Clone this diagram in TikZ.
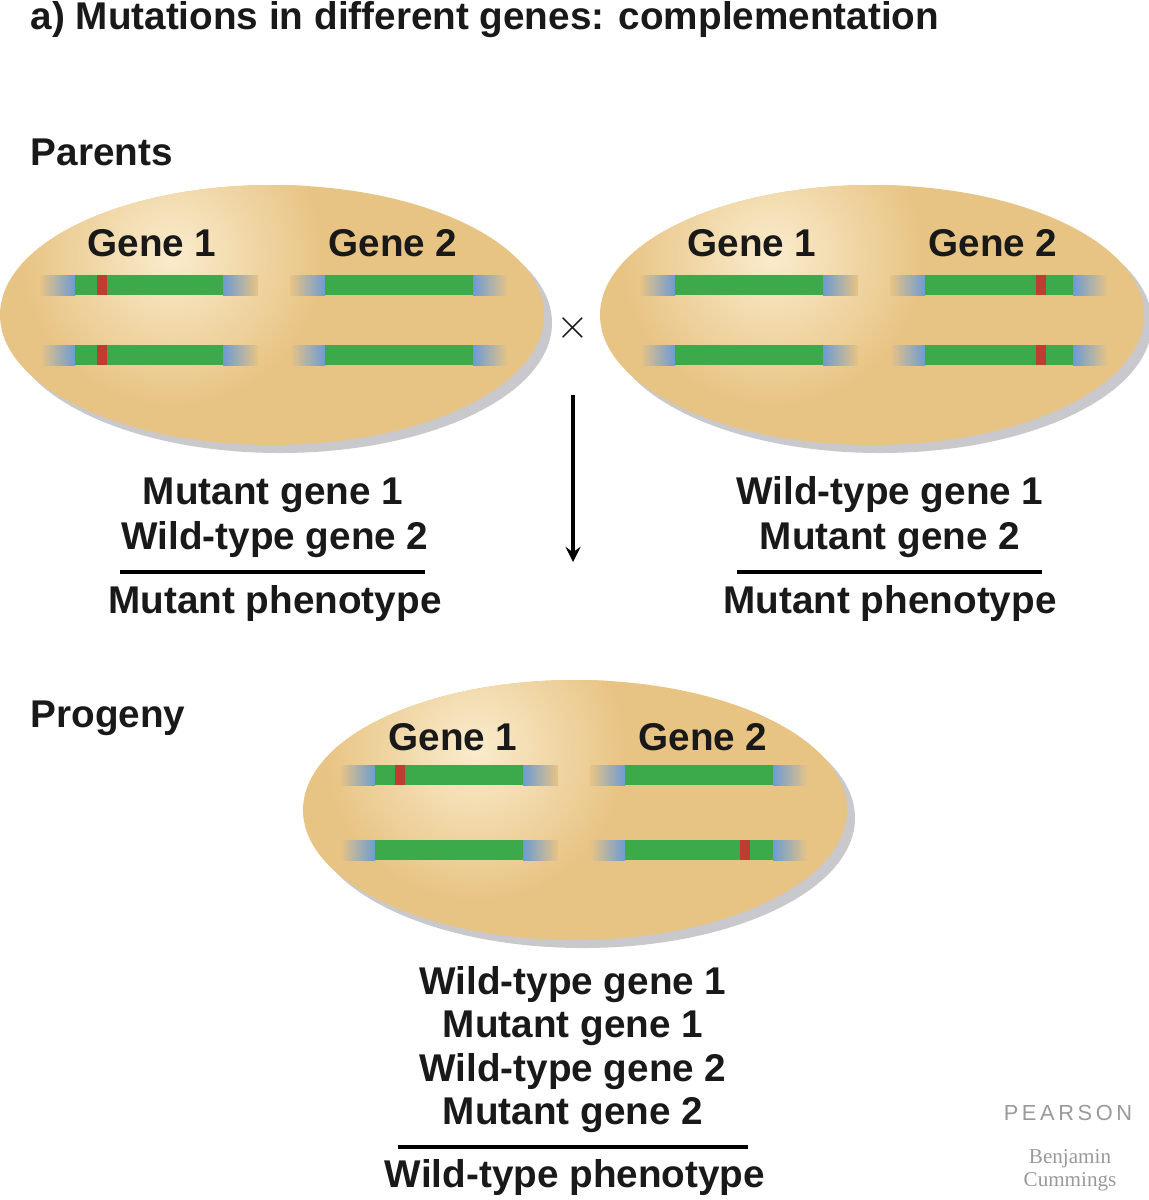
\documentclass[tikz,border=0pt]{standalone}
\usepackage{fontspec}
\setmainfont{Liberation Sans}
\newfontfamily\serifx{Liberation Serif}
\begin{document}
\definecolor{tan}{RGB}{232,196,132}
\definecolor{tanlight}{RGB}{250,236,205}
\definecolor{gr}{RGB}{60,170,75}
\definecolor{bl}{RGB}{110,155,210}
\definecolor{rd}{RGB}{190,60,50}
\definecolor{shd}{RGB}{200,200,205}
\newcommand\chromo[3]{% x0, y, red x (or -1)
  \shade[left color=tan, right color=bl] (#1,#2-10) rectangle (#1+35,#2+10);
  \shade[left color=bl, right color=tan] (#1+183,#2-10) rectangle (#1+218,#2+10);
  \fill[gr] (#1+35,#2-10) rectangle (#1+183,#2+10);
  \ifnum#3>0 \fill[rd] (#3-5,#2-10) rectangle (#3+5,#2+10);\fi}
\newcommand\cell[3]{% name, cx, cy
  \fill[shd] (#2+8,#3+8) ellipse [x radius=272, y radius=130];
  \fill[tan] (#2,#3) ellipse [x radius=272, y radius=130];
  \begin{scope}
  \clip (#2,#3) ellipse [x radius=272, y radius=130];
  \shade[inner color=tanlight, outer color=tan] (#2-100,#3-60) circle (150);
  \end{scope}
  \node (#1) at (#2,#3) {};}
\begin{tikzpicture}[x=0.01cm,y=-0.01cm,
  txt/.style={font=\fontsize{11}{12}\selectfont\bfseries, inner sep=0pt, text=black!90}]
\useasboundingbox (0,0) rectangle (1149,1200);
\node[txt, anchor=west] (title) at (30,20) {a) Mutations in different genes: complementation};
\node[txt, anchor=west] (par) at (30,152) {Parents};
\node[txt, anchor=west] (prog) at (30,718) {Progeny};
% left parent
\cell{p1}{272}{315}
\node[txt] (p1g1) at (152,243) {Gene 1};
\node[txt] (p1g2) at (393,243) {Gene 2};
\chromo{40}{285}{102}\chromo{40}{355}{102}
\chromo{290}{285}{-1}\chromo{290}{355}{-1}
% right parent
\cell{p2}{872}{315}
\node[txt] (p2g1) at (752,243) {Gene 1};
\node[txt] (p2g2) at (993,243) {Gene 2};
\chromo{640}{285}{-1}\chromo{640}{355}{-1}
\chromo{890}{285}{1041}\chromo{890}{355}{1041}
\node[txt, font=\fontsize{13}{13}\selectfont] (x) at (573,328) {$\times$};
\coordinate (a1) at (573,395);\coordinate (a2) at (573,562);
\draw[-stealth, line width=0.9pt] (a1) -- (a2);
% left texts
\node[txt] (l1) at (273,495) {Mutant gene 1};
\node[txt] (l2) at (275,540) {Wild-type gene 2};
\coordinate (l3a) at (120,572);\coordinate (l3b) at (425,572);
\draw[line width=0.9pt] (l3a) -- (l3b);
\node[txt] (l4) at (275,603) {Mutant phenotype};
\node[txt] (r1) at (890,495) {Wild-type gene 1};
\node[txt] (r2) at (890,540) {Mutant gene 2};
\coordinate (r3a) at (737,572);\coordinate (r3b) at (1042,572);
\draw[line width=0.9pt] (r3a) -- (r3b);
\node[txt] (r4) at (890,603) {Mutant phenotype};
% progeny
\cell{pc}{575}{810}
\node[txt] (pg1) at (453,737) {Gene 1};
\node[txt] (pg2) at (703,737) {Gene 2};
\chromo{340}{775}{400}\chromo{340}{850}{-1}
\chromo{590}{775}{-1}\chromo{590}{850}{745}
\node[txt] (b1) at (573,985) {Wild-type gene 1};
\node[txt] (b2) at (573,1028) {Mutant gene 1};
\node[txt] (b3) at (573,1072) {Wild-type gene 2};
\node[txt] (b4) at (573,1115) {Mutant gene 2};
\coordinate (b5a) at (398,1147);\coordinate (b5b) at (748,1147);
\draw[line width=0.9pt] (b5a) -- (b5b);
\node[txt] (b6) at (575,1177) {Wild-type phenotype};
% logo
\node[font=\fontsize{6.2}{7}\selectfont, text=black!40] (pe) at (1068,1113) {P\,E\,A\,R\,S\,O\,N};
\node[font=\serifx\fontsize{6}{6.5}\selectfont, text=black!40, align=center, inner sep=0pt] (bc) at (1070,1170) {Benjamin\\Cummings};
\end{tikzpicture}
\end{document}
